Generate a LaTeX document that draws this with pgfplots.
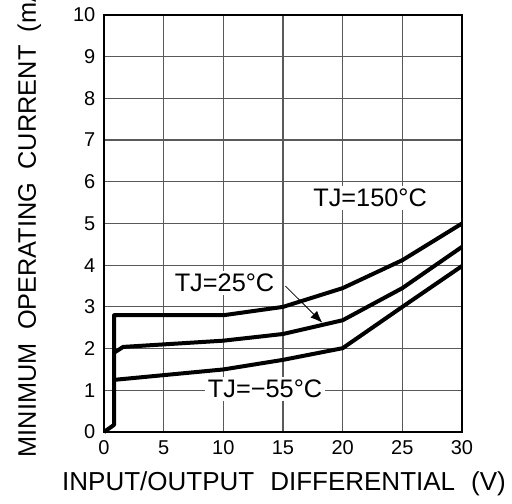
\documentclass[border=0pt]{standalone}
\usepackage{pgfplots}
\pgfplotsset{compat=1.18}
\usepackage{fontspec}
\setmainfont{Liberation Sans}
\usetikzlibrary{arrows.meta}
\begin{document}
\begin{tikzpicture}
\begin{axis}[
  at={(0,0)}, anchor=south west,
  scale only axis,
  width=268.5pt, height=312.75pt,
  xmin=0, xmax=30, ymin=0, ymax=10,
  xtick={0,5,...,30}, ytick={0,1,...,10},
  grid=major,
  major grid style={draw=black!65, line width=0.9pt},
  axis line style={black, line width=0.8pt},
  major tick length=0pt,
  tick label style={font=\fontsize{15}{15}\selectfont},
  /pgf/number format/assume math mode=true,
  xticklabel style={yshift=-3pt},
  yticklabel style={xshift=-3pt},
  clip=false,
]
\addplot[black, line width=3pt, line join=round] coordinates {
(0,0) (0.84,0.17) (0.84,2.8) (10,2.8) (15,3.0) (20,3.45) (25,4.12) (30,5.0)};
\addplot[black, line width=3pt, line join=round] coordinates {
(0.84,1.9) (1.6,2.04) (10,2.19) (15,2.35) (20,2.68) (25,3.45) (30,4.44)};
\addplot[black, line width=3pt, line join=round] coordinates {
(0.84,1.25) (10,1.5) (15,1.73) (20,2.01) (25,3.0) (30,3.98)};
\draw[-{Latex[length=9pt,width=7pt]}, line width=0.6pt] (axis cs:15.2,3.5) -- (axis cs:18.3,2.62);
\node[fill=white, inner sep=2pt, font=\fontsize{19}{19}\selectfont] at (axis cs:10.1,3.57) {TJ=25°C};
\node[fill=white, inner sep=2pt, font=\fontsize{19}{19}\selectfont] at (axis cs:13.5,1.03) {TJ=−55°C};
\node[fill=white, inner sep=2pt, font=\fontsize{19}{19}\selectfont] at (axis cs:22.3,5.61) {TJ=150°C};
\end{axis}
\node[anchor=base, font=\fontsize{19.5}{19.5}\selectfont] at (135pt,-44.25pt) {INPUT/OUTPUT\hspace{12pt}DIFFERENTIAL\hspace{12pt}(V)};
\node[anchor=base west, rotate=90, font=\fontsize{19}{19}\selectfont] at (-51pt,-22.5pt) {MINIMUM\hspace{10pt}OPERATING\hspace{10pt}CURRENT\hspace{10pt}(mA)};
\pgfresetboundingbox
\path (-78pt,-54pt) rectangle (306pt,324pt);
\end{tikzpicture}
\end{document}
